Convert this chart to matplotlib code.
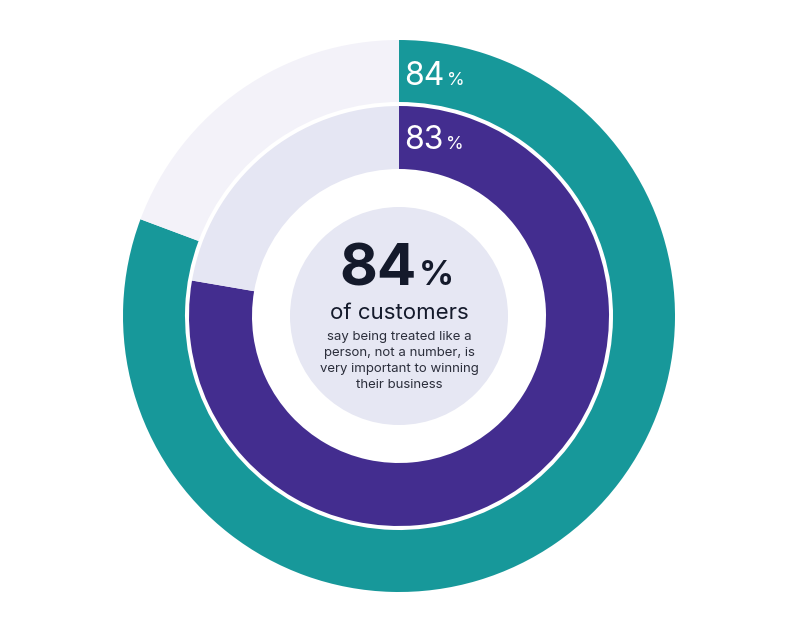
import matplotlib
matplotlib.use("Agg")
import matplotlib.pyplot as plt
from matplotlib.patches import Circle

plt.rcParams['font.family'] = ['Inter', 'DejaVu Sans']

# valeurs (arcs tels qu'affiches) et libelles
outer_share = [80.7, 19.3]
inner_share = [77.7, 22.3]
outer_label = "84"
inner_label = "83"
center_value = "84"
center_title = "of customers"
center_text = ["say being treated like a", "person, not a number, is",
               "very important to winning", "their business"]

teal = "#17989a"
purple = "#432d8f"
outer_rest = "#f3f2f9"
inner_rest = "#e5e6f3"
center_col = "#e6e7f3"
dark = "#141a2b"

cx, cy = 399, 317

fig = plt.figure(figsize=(8, 6.33), dpi=100)
ax = fig.add_axes([0, 0, 1, 1])
ax.axis('off')

ax.pie(outer_share, colors=[teal, outer_rest], startangle=90, counterclock=False,
       center=(cx, cy), radius=276, wedgeprops=dict(width=62, linewidth=0))
ax.pie(inner_share, colors=[purple, inner_rest], startangle=90, counterclock=False,
       center=(cx, cy), radius=210, wedgeprops=dict(width=63, linewidth=0))
ax.add_patch(Circle((cx, cy), 109, color=center_col, lw=0))
ax.set_xlim(0, 800)
ax.set_ylim(0, 633)
ax.set_aspect('equal')

# libelles des anneaux, le % colle a droite des chiffres, meme ligne de base
for lab, y in [(outer_label, 633 - 85), (inner_label, 633 - 149)]:
    t = ax.text(404, y, lab, color='white', fontsize=23, ha='left', va='baseline')
    ax.annotate("%", xy=(1, y), xycoords=(t, 'data'), xytext=(2, 0),
                textcoords='offset points', color='white', fontsize=13,
                ha='left', va='baseline')

# texte central
yb = 633 - 285
t = ax.text(417, yb, center_value, color=dark, fontsize=42, fontweight='bold',
            ha='right', va='baseline')
ax.annotate("%", xy=(1, yb), xycoords=(t, 'data'), xytext=(1, 0),
            textcoords='offset points', color=dark, fontsize=25, fontweight='bold',
            ha='left', va='baseline')
ax.text(cx, 633 - 313, center_title, color=dark, fontsize=16, ha='center', va='center')
for i, line in enumerate(center_text):
    ax.text(cx, 633 - 337 - 16 * i, line, color='#2b2e3b', fontsize=9.5,
            ha='center', va='center')

fig.savefig("out.png", dpi=100, facecolor='white')
